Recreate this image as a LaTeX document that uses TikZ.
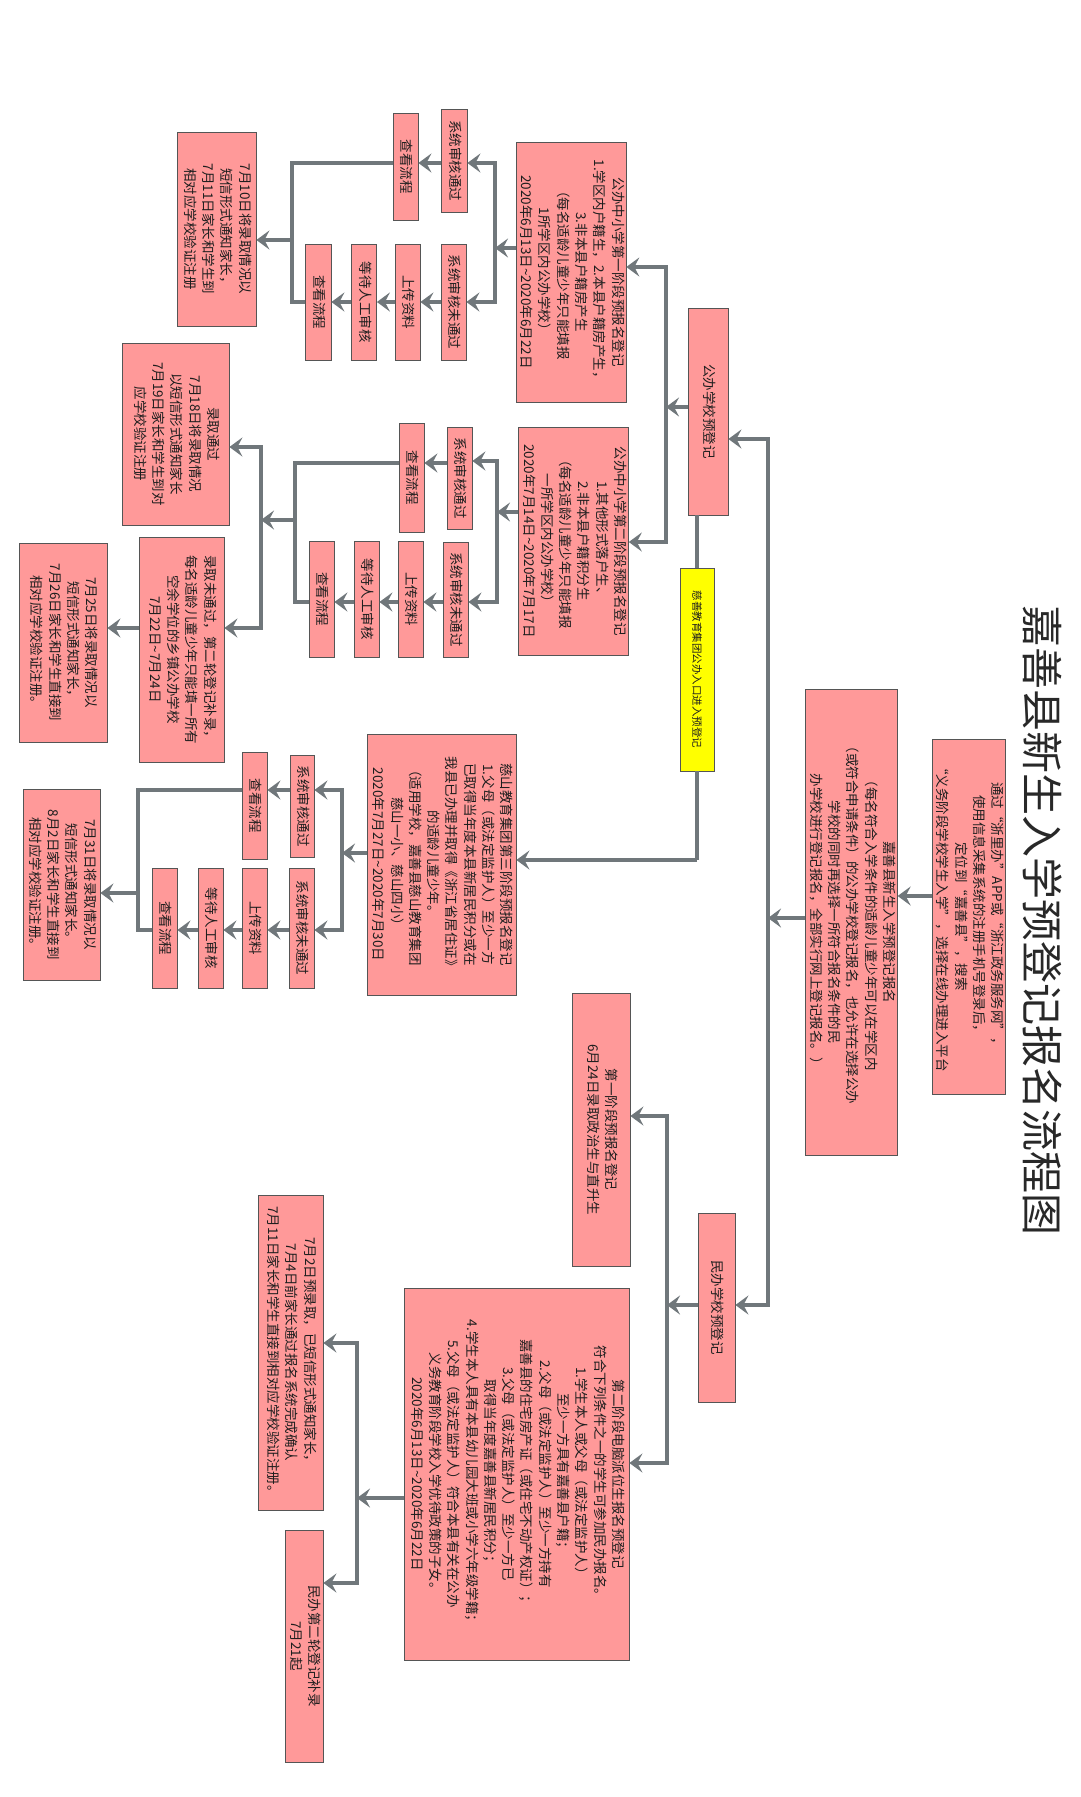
\documentclass[tikz,border=0pt]{standalone}
\usepackage{fontspec}
\usepackage{graphicx}
\setmainfont{Noto Sans CJK SC}
\usetikzlibrary{arrows.meta,calc}
\definecolor{pinkf}{RGB}{255,153,153}
\definecolor{yelc}{RGB}{255,255,0}
\definecolor{linec}{RGB}{112,119,123}
\definecolor{bordc}{RGB}{85,85,85}
\definecolor{txtc}{RGB}{30,30,30}
\definecolor{titlec}{RGB}{40,40,40}
\newcommand{\rt}[1]{\rotatebox{-90}{\begin{tabular}{@{}c@{}}#1\end{tabular}}}
\begin{document}
\begin{tikzpicture}[x=1pt,y=-1pt,
  box/.style={draw=bordc,line width=0.8pt,fill=pinkf,inner sep=0pt,text=txtc,font=\fontsize{13.5}{18.3}\selectfont},
  bx/.style 2 args={box,minimum width=#1,minimum height=#2},
  conn/.style={draw=linec,line width=3.6pt},
  bus/.style={conn,line cap=rect},
  arr/.style={conn,-{Stealth[length=13pt,width=19pt,inset=5pt]}},
]
\fill[white] (0,0) rectangle (1080,1797);
\useasboundingbox (0,0) rectangle (1080,1797);

% title
\node[font=\fontsize{42}{46}\selectfont,text=titlec,inner sep=0pt] (title) at (1043,920) {\rotatebox{-90}{嘉善县新生入学预登记报名流程图}};

% top nodes
\node[bx={72pt}{355pt}] (ntop) at (969,916.5) {\rt{通过“浙里办”APP或“浙江政务服务网”，\\使用信息采集系统的注册手机号登录后，\\定位到“嘉善县”，搜索\\“义务阶段学校学生入学”，选择在线办理进入平台}};
\node[bx={91pt}{466pt}] (nmain) at (851.5,922) {\rt{嘉善县新生入学预登记报名\\（每名符合入学条件的适龄儿童少年可以在学区内\\（或符合申请条件）的公办学校登记报名，也允许在选择公办\\学校的同时再选择一所符合报名条件的民\\办学校进行登记报名，全部实行网上登记报名。）}};

\node[bx={40pt}{207pt}] (pub) at (708,411.5) {\rt{公办学校预登记}};
\node[bx={37pt}{189pt}] (min) at (716.5,1307.5) {\rt{民办学校预登记}};

% stage 1 public
\node[bx={106pt}{260pt}] (s1) at (571,272) {\rt{公办中小学第一阶段预报名登记\\1.学区内户籍生，2.本县户籍房产生，\\3.非本县户籍房产生\\（每名适龄儿童少年只能填报\\1所学区内公办学校）\\2020年6月13日\textasciitilde2020年6月22日}};
\node[bx={26pt}{103pt}] (s1ok) at (454,160.5) {\rt{系统审核通过}};
\node[bx={25pt}{107pt}] (s1v1) at (405.5,166.5) {\rt{查看流程}};
\node[bx={25pt}{116pt}] (s1no) at (453.5,302) {\rt{系统审核未通过}};
\node[bx={25pt}{116pt}] (s1up) at (407.5,302) {\rt{上传资料}};
\node[bx={25pt}{116pt}] (s1wait) at (364,302) {\rt{等待人工审核}};
\node[bx={26pt}{116pt}] (s1v2) at (318,302) {\rt{查看流程}};
\node[bx={79pt}{194pt}] (r1) at (216.5,229) {\rt{7月10日将录取情况以\\短信形式通知家长，\\7月11日家长和学生到\\相对应学校验证注册}};

% stage 2 public
\node[bx={109pt}{228pt}] (s2) at (573.5,541) {\rt{公办中小学第二阶段预报名登记\\1.其他形式落户生、\\2.非本县户籍积分生\\（每名适龄儿童少年只能填报\\一所学区内公办学校）\\2020年7月14日\textasciitilde2020年7月17日}};
\node[bx={25pt}{102pt}] (s2ok) at (459.5,478) {\rt{系统审核通过}};
\node[bx={25pt}{115pt}] (s2no) at (455.5,599.5) {\rt{系统审核未通过}};
\node[bx={25pt}{109pt}] (s2v1) at (411.5,477.5) {\rt{查看流程}};
\node[bx={25pt}{116pt}] (s2up) at (410.5,599) {\rt{上传资料}};
\node[bx={25pt}{116pt}] (s2wait) at (366.5,599) {\rt{等待人工审核}};
\node[bx={25pt}{116pt}] (s2v2) at (321.5,599) {\rt{查看流程}};
\node[bx={107pt}{182pt}] (r2ok) at (175.5,434) {\rt{录取通过\\7月18日将录取情况\\以短信形式通知家长\\7月19日家长和学生到对\\应学校验证注册}};
\node[bx={85pt}{225pt}] (r2no) at (181.5,649.5) {\rt{录取未通过，第二轮登记补录，\\每名适龄儿童少年只能填一所有\\空余学位的乡镇公办学校\\7月22日\textasciitilde7月24日}};
\node[bx={88pt}{199pt}] (r2b) at (63,642.5) {\rt{7月25日将录取情况以\\短信形式通知家长，\\7月26日家长和学生直接到\\相对应学校验证注册。}};

% yellow
\node[box,fill=yelc,minimum width=34pt,minimum height=203pt,font=\fontsize{10.5}{12}\selectfont] (yel) at (697,669.5) {\rotatebox{-90}{慈善教育集团公办入口进入预登记}};

% stage 3
\node[bx={149pt}{261pt}] (s3) at (441.5,864.5) {\rt{慈山教育集团第三阶段预报名登记\\1.父母（或法定监护人）至少一方\\已取得当年度本县新居民积分或在\\我县已办理并取得《浙江省居住证》\\的适龄儿童少年。\\（适用学校，嘉善县慈山教育集团\\慈山一小、慈山四小）\\2020年7月27日\textasciitilde2020年7月30日}};
\node[bx={24pt}{102pt}] (s3ok) at (302,806) {\rt{系统审核通过}};
\node[bx={25pt}{107pt}] (s3v1) at (254.5,805.5) {\rt{查看流程}};
\node[bx={25pt}{120pt}] (s3no) at (301.5,928) {\rt{系统审核未通过}};
\node[bx={25pt}{120pt}] (s3up) at (254.5,928) {\rt{上传资料}};
\node[bx={25pt}{120pt}] (s3wait) at (210.5,928) {\rt{等待人工审核}};
\node[bx={25pt}{120pt}] (s3v2) at (164.5,928) {\rt{查看流程}};
\node[bx={77pt}{191pt}] (r3) at (61.5,884.5) {\rt{7月31日将录取情况以\\短信形式通知家长。\\8月2日家长和学生直接到\\相对应学校验证注册。}};

% private
\node[bx={58pt}{273pt}] (m1) at (601,1129.5) {\rt{第一阶段预报名登记\\6月24日录取政治生与直升生}};
\node[bx={225pt}{372pt}] (m2) at (516.5,1474) {\rt{第二阶段电脑派位生报名预登记\\符合下列条件之一的学生可参加民办报名。\\1.学生本人或父母（或法定监护人）\\至少一方具有嘉善县户籍；\\2.父母（或法定监护人）至少一方持有\\嘉善县的住宅房产证（或住宅不动产权证）；\\3.父母（或法定监护人）至少一方已\\取得当年度嘉善县新居民积分；\\4.学生本人具有本县幼儿园大班或小学六年级学籍；\\5.父母（或法定监护人）符合本县有关在公办\\义务教育阶段学校入学优待政策的子女。\\2020年6月13日\textasciitilde2020年6月22日}};
\node[bx={65pt}{315pt}] (m2a) at (290.5,1352.5) {\rt{7月2日预录取，已短信形式通知家长，\\7月4日前家长通过报名系统完成确认\\7月11日家长和学生直接到相对应学校验证注册。}};
\node[bx={38pt}{232pt}] (m2b) at (304,1646) {\rt{民办第二轮登记补录\\7月21起}};

% ---- coordinates
\coordinate (a0) at (0,896);
\coordinate (b0m) at (768,918);
\coordinate (b0t) at (768,439);
\coordinate (b0b) at (768,1305);
\coordinate (b1m) at (666,407);
\coordinate (b1t) at (666,267);
\coordinate (b1b) at (666,542);
\coordinate (y3) at (697,860);
\coordinate (c1m) at (495,248);
\coordinate (c1t) at (495,163);
\coordinate (c1b) at (495,302);
\coordinate (d1m) at (292,240);
\coordinate (c2m) at (497,512);
\coordinate (c2t) at (497,461);
\coordinate (c2b) at (497,602);
\coordinate (d2t) at (295,463);
\coordinate (d2m) at (295,520);
\coordinate (e2m) at (261,520);
\coordinate (e2t) at (261,447);
\coordinate (e2b) at (261,628);
\coordinate (c3m) at (342,853);
\coordinate (c3t) at (342,790);
\coordinate (c3b) at (342,930);
\coordinate (d3m) at (138,893);
\coordinate (f0t) at (667,1116);
\coordinate (f0b) at (667,1463);
\coordinate (g0m) at (357,1498);
\coordinate (g0t) at (357,1343);
\coordinate (g0b) at (357,1583);

% ---- connectors
\draw[arr] (ntop.west |- a0) -- (nmain.east |- a0);
\draw[arr] (nmain.west |- b0m) -- (b0m);
\draw[bus] (b0t) -- (b0b);
\draw[arr] (b0t) -- (pub.east |- b0t);
\draw[arr] (b0b) -- (min.east |- b0b);

\draw[arr] (pub.west |- b1m) -- (b1m);
\draw[bus] (b1t) -- (b1b);
\draw[arr] (b1t) -- (s1.east |- b1t);
\draw[arr] (b1b) -- (s2.east |- b1b);
\draw[conn] (pub.south -| yel.north) -- (yel.north);
\draw[conn] (yel.south) -- (y3);
\draw[arr] (y3) -- (s3.east |- y3);

% stage 1
\draw[arr] (s1.west |- c1m) -- (c1m);
\draw[bus] (c1t) -- (c1b);
\draw[arr] (c1t) -- (s1ok.east |- c1t);
\draw[arr] (c1b) -- (s1no.east |- c1b);
\draw[arr] (s1ok.west |- c1t) -- (s1v1.east |- c1t);
\draw[arr] (s1no.west) -- (s1up.east);
\draw[arr] (s1up.west) -- (s1wait.east);
\draw[arr] (s1wait.west) -- (s1v2.east);
\draw[conn] (s1v1.west |- c1t) -- (d1m |- c1t) -- (d1m |- s1v2.west) -- (s1v2.west);
\draw[arr] (d1m) -- (r1.east |- d1m);

% stage 2
\draw[arr] (s2.west |- c2m) -- (c2m);
\draw[bus] (c2t) -- (c2b);
\draw[arr] (c2t) -- (s2ok.east |- c2t);
\draw[arr] (c2b) -- (s2no.east |- c2b);
\draw[arr] (s2ok.west |- d2t) -- (s2v1.east |- d2t);
\draw[arr] (s2no.west |- c2b) -- (s2up.east |- c2b);
\draw[arr] (s2up.west |- c2b) -- (s2wait.east |- c2b);
\draw[arr] (s2wait.west |- c2b) -- (s2v2.east |- c2b);
\draw[conn] (s2v1.west |- d2t) -- (d2t) -- (d2t |- c2b) -- (s2v2.west |- c2b);
\draw[arr] (d2m) -- (e2m);
\draw[bus] (e2t) -- (e2b);
\draw[arr] (e2t) -- (r2ok.east |- e2t);
\draw[arr] (e2b) -- (r2no.east |- e2b);
\draw[arr] (r2no.west |- e2b) -- (r2b.east |- e2b);

% stage 3
\draw[arr] (s3.west |- c3m) -- (c3m);
\draw[bus] (c3t) -- (c3b);
\draw[arr] (c3t) -- (s3ok.east |- c3t);
\draw[arr] (c3b) -- (s3no.east |- c3b);
\draw[arr] (s3ok.west |- c3t) -- (s3v1.east |- c3t);
\draw[arr] (s3no.west |- c3b) -- (s3up.east |- c3b);
\draw[arr] (s3up.west |- c3b) -- (s3wait.east |- c3b);
\draw[arr] (s3wait.west |- c3b) -- (s3v2.east |- c3b);
\draw[conn] (s3v1.west |- c3t) -- (d3m |- c3t) -- (d3m |- c3b) -- (s3v2.west |- c3b);
\draw[arr] (d3m) -- (r3.east |- d3m);

% private
\draw[arr] (min.west |- b0b) -- (f0t |- b0b);
\draw[bus] (f0t) -- (f0b);
\draw[arr] (f0t) -- (m1.east |- f0t);
\draw[arr] (f0b) -- (m2.east |- f0b);
\draw[arr] (m2.west |- g0m) -- (g0m);
\draw[bus] (g0t) -- (g0b);
\draw[arr] (g0t) -- (m2a.east |- g0t);
\draw[arr] (g0b) -- (m2b.east |- g0b);
\end{tikzpicture}
\end{document}
